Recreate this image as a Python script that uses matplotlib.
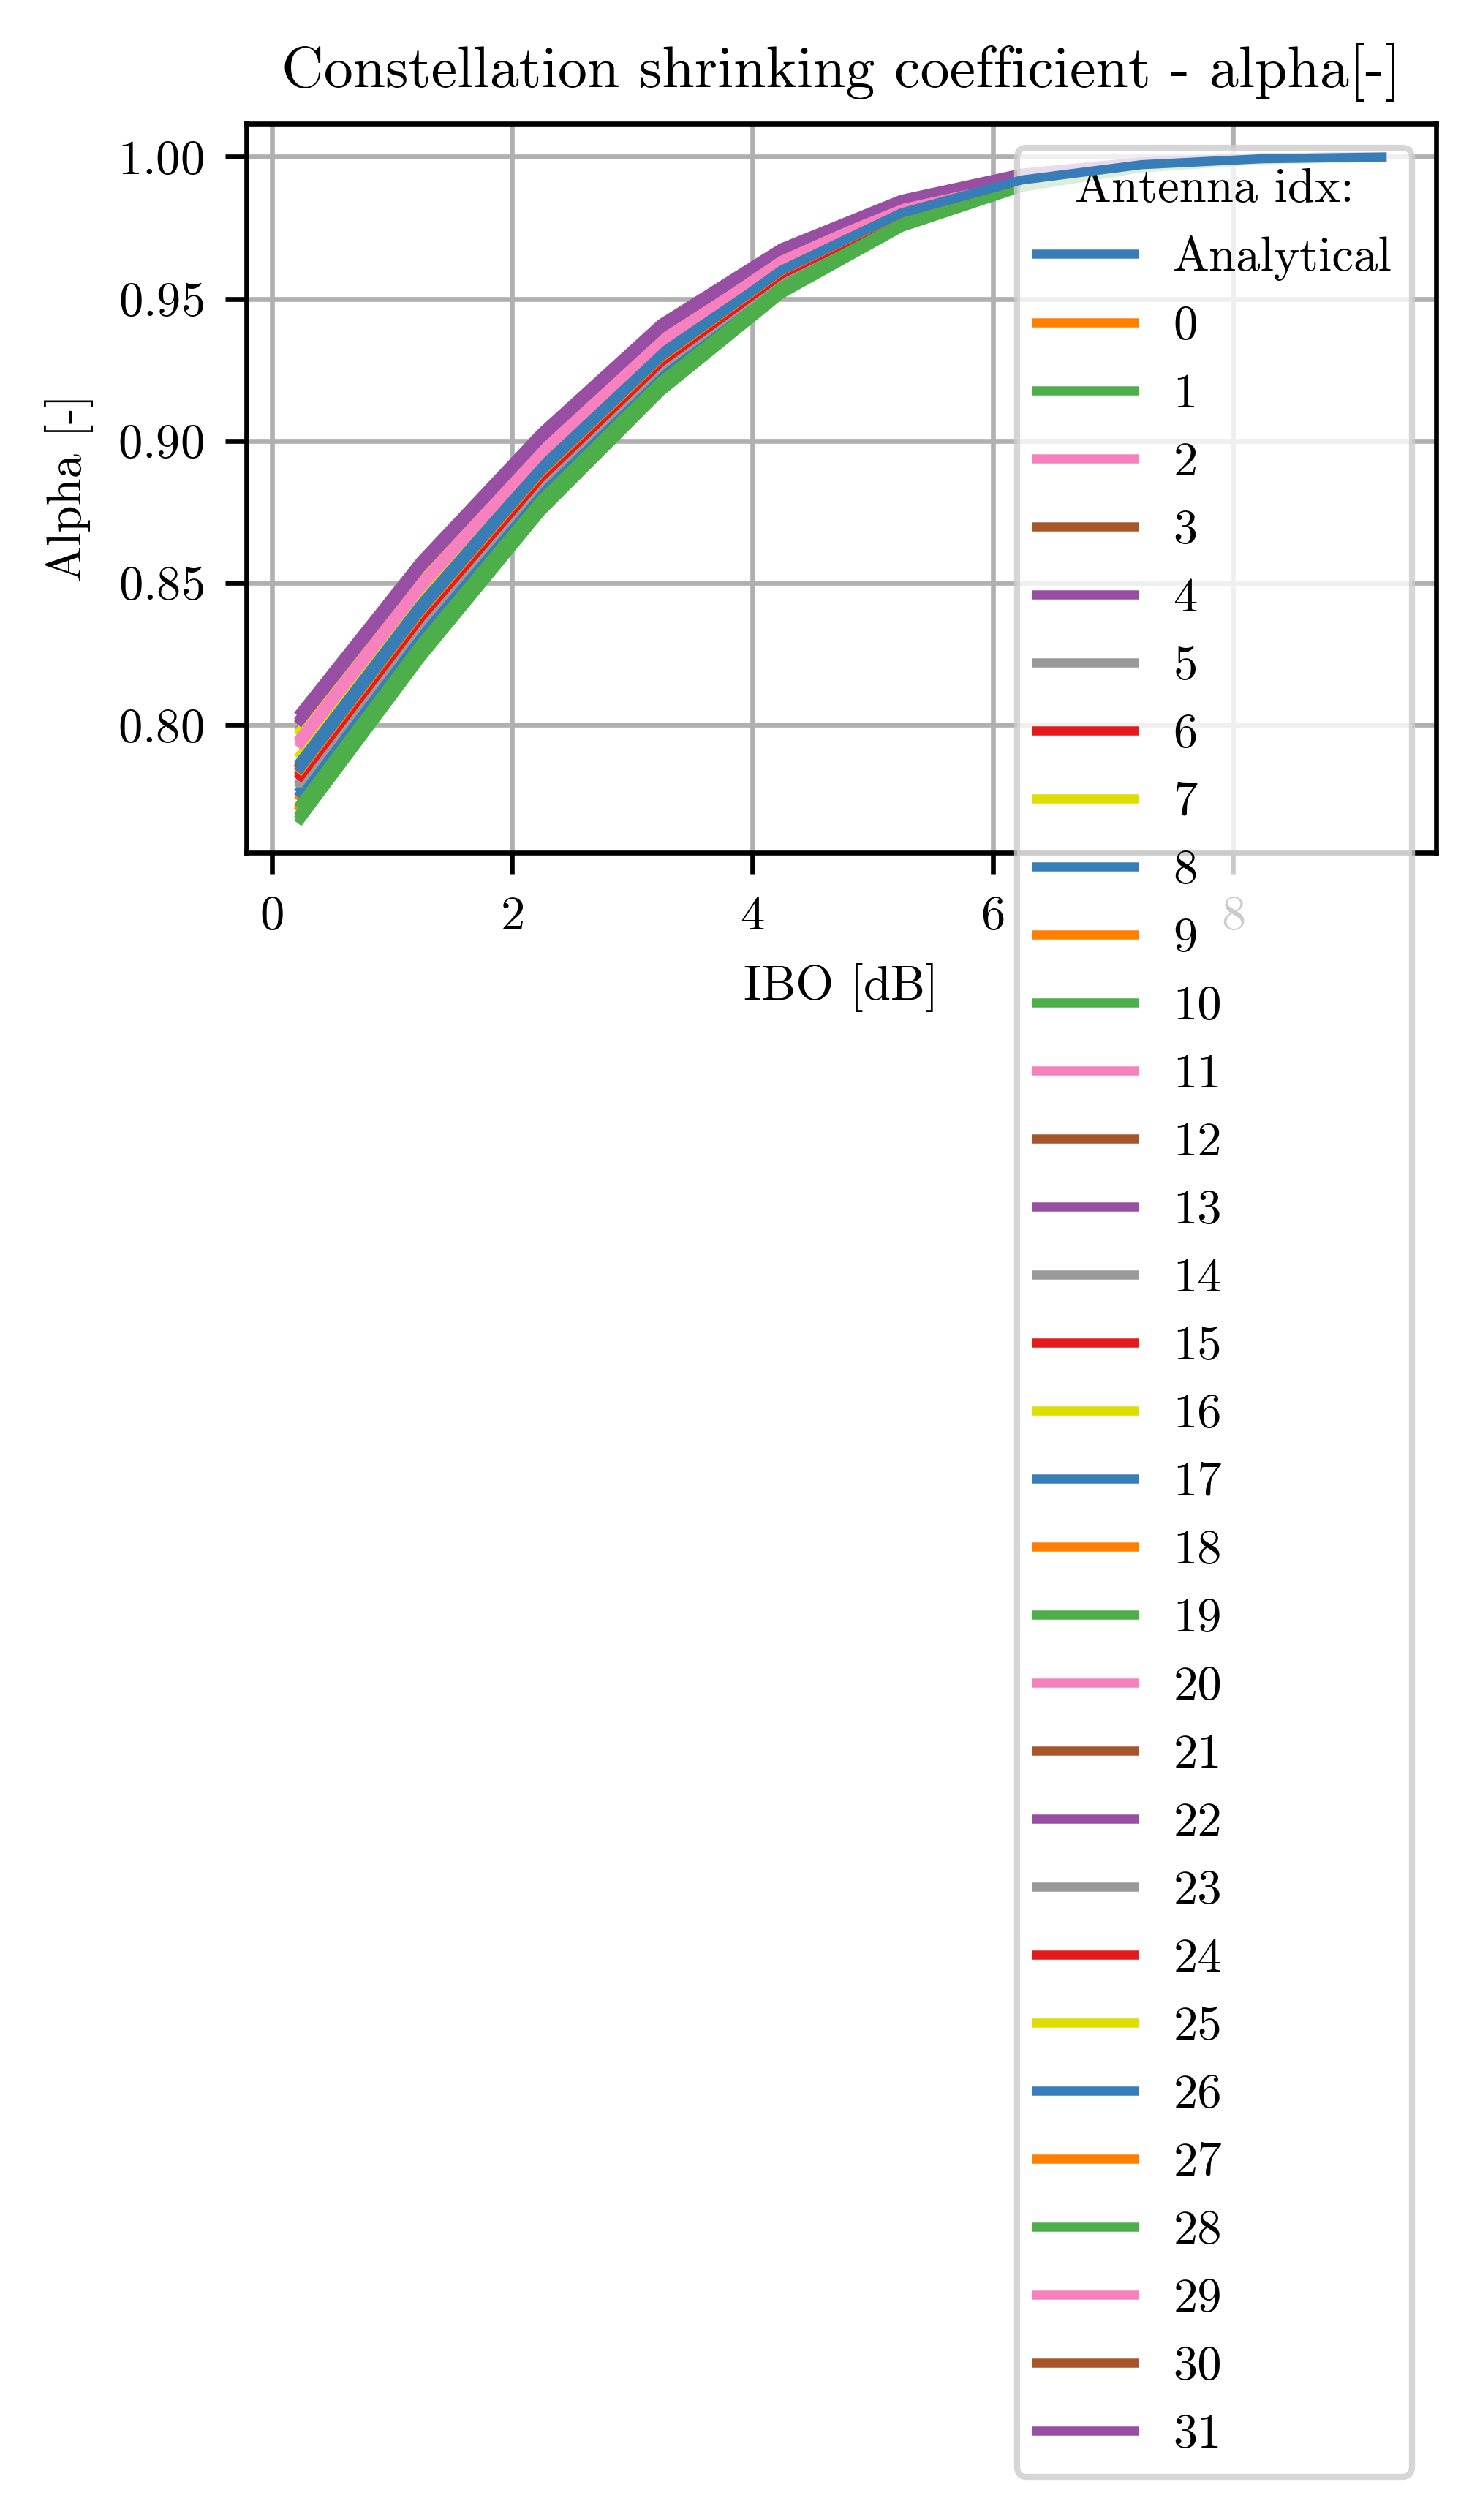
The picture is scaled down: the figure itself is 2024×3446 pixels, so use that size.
import matplotlib
matplotlib.use('Agg')
import matplotlib.pyplot as plt
from cycler import cycler

# colour-blind friendly cycle
CB_colors = ['#377eb8', '#ff7f00', '#4daf4a', '#f781bf', '#a65628',
             '#984ea3', '#999999', '#e41a1c', '#dede00']

ibo = [0.24, 1.24, 2.24, 3.24, 4.24, 5.24, 6.24, 7.24, 8.24, 9.24]

alpha_analytical = [0.7849, 0.8404, 0.8893, 0.9297, 0.9600, 0.9802, 0.9918, 0.9972, 0.9993, 0.9999]

# one row per antenna (idx 0..31)
alpha_antennas = [
    [0.7717, 0.8281, 0.8789, 0.9207, 0.9539, 0.9765, 0.9899, 0.9964, 0.9990, 0.9998],
    [0.7680, 0.8246, 0.8760, 0.9182, 0.9522, 0.9755, 0.9894, 0.9962, 0.9990, 0.9998],
    [0.7950, 0.8494, 0.8963, 0.9357, 0.9641, 0.9827, 0.9931, 0.9977, 0.9995, 1.0000],
    [0.7864, 0.8418, 0.8905, 0.9307, 0.9607, 0.9806, 0.9920, 0.9973, 0.9993, 0.9999],
    [0.8026, 0.8562, 0.9015, 0.9402, 0.9671, 0.9845, 0.9940, 0.9981, 0.9996, 1.0000],
    [0.7992, 0.8531, 0.8992, 0.9382, 0.9658, 0.9837, 0.9936, 0.9979, 0.9995, 1.0000],
    [0.7823, 0.8379, 0.8872, 0.9279, 0.9588, 0.9795, 0.9914, 0.9970, 0.9992, 0.9999],
    [0.7975, 0.8517, 0.8980, 0.9372, 0.9651, 0.9833, 0.9934, 0.9979, 0.9995, 1.0000],
    [0.7775, 0.8335, 0.8835, 0.9247, 0.9566, 0.9781, 0.9907, 0.9968, 0.9992, 0.9999],
    [0.7746, 0.8308, 0.8812, 0.9227, 0.9552, 0.9773, 0.9903, 0.9966, 0.9991, 0.9998],
    [0.7667, 0.8234, 0.8749, 0.9173, 0.9516, 0.9751, 0.9892, 0.9961, 0.9989, 0.9998],
    [0.7805, 0.8363, 0.8858, 0.9267, 0.9580, 0.9790, 0.9912, 0.9969, 0.9992, 0.9999],
    [0.7856, 0.8411, 0.8899, 0.9302, 0.9603, 0.9804, 0.9919, 0.9972, 0.9993, 0.9999],
    [0.8017, 0.8554, 0.9009, 0.9397, 0.9668, 0.9843, 0.9939, 0.9981, 0.9996, 1.0000],
    [0.7790, 0.8349, 0.8847, 0.9257, 0.9573, 0.9786, 0.9910, 0.9968, 0.9992, 0.9999],
    [0.7834, 0.8390, 0.8881, 0.9287, 0.9593, 0.9798, 0.9916, 0.9971, 0.9993, 0.9999],
    [0.7981, 0.8521, 0.8983, 0.9375, 0.9653, 0.9834, 0.9934, 0.9979, 0.9995, 1.0000],
    [0.7759, 0.8320, 0.8822, 0.9236, 0.9559, 0.9777, 0.9905, 0.9967, 0.9991, 0.9998],
    [0.7709, 0.8274, 0.8783, 0.9202, 0.9535, 0.9763, 0.9898, 0.9964, 0.9990, 0.9998],
    [0.7692, 0.8257, 0.8769, 0.9190, 0.9527, 0.9758, 0.9896, 0.9963, 0.9990, 0.9998],
    [0.7957, 0.8500, 0.8967, 0.9361, 0.9644, 0.9828, 0.9931, 0.9978, 0.9995, 1.0000],
    [0.7861, 0.8415, 0.8902, 0.9305, 0.9605, 0.9805, 0.9920, 0.9973, 0.9993, 0.9999],
    [0.8014, 0.8551, 0.9007, 0.9395, 0.9667, 0.9842, 0.9939, 0.9981, 0.9996, 1.0000],
    [0.7800, 0.8359, 0.8855, 0.9264, 0.9578, 0.9788, 0.9911, 0.9969, 0.9992, 0.9999],
    [0.7820, 0.8377, 0.8870, 0.9277, 0.9586, 0.9794, 0.9914, 0.9970, 0.9992, 0.9999],
    [0.7896, 0.8446, 0.8925, 0.9325, 0.9619, 0.9813, 0.9924, 0.9974, 0.9994, 0.9999],
    [0.7873, 0.8425, 0.8909, 0.9311, 0.9610, 0.9808, 0.9921, 0.9973, 0.9993, 0.9999],
    [0.7842, 0.8397, 0.8887, 0.9292, 0.9597, 0.9800, 0.9917, 0.9972, 0.9993, 0.9999],
    [0.7723, 0.8286, 0.8793, 0.9211, 0.9542, 0.9767, 0.9900, 0.9964, 0.9991, 0.9998],
    [0.7935, 0.8481, 0.8952, 0.9348, 0.9635, 0.9823, 0.9929, 0.9976, 0.9994, 0.9999],
    [0.7849, 0.8404, 0.8893, 0.9297, 0.9600, 0.9802, 0.9918, 0.9972, 0.9993, 0.9999],
    [0.8045, 0.8578, 0.9028, 0.9413, 0.9679, 0.9850, 0.9942, 0.9982, 0.9996, 1.0000],
]

plt.rcParams['font.family'] = 'serif'
plt.rcParams['font.serif'] = ['cmr10']
plt.rcParams['mathtext.fontset'] = 'cm'
plt.rcParams['axes.formatter.use_mathtext'] = True
plt.rcParams['font.size'] = 8
plt.rcParams['axes.prop_cycle'] = cycler(color=CB_colors)

fig = plt.figure(figsize=(2024 / 600, 3446 / 600), dpi=600)
ax = fig.add_axes([337 / 2024, 1 - 1166 / 3446, (1964 - 337) / 2024, (1166 - 169) / 3446])

ax.plot(ibo, alpha_analytical, label='Analytical', zorder=6)
for idx, vals in enumerate(alpha_antennas):
    ax.plot(ibo, vals, label=str(idx))

ax.set_title('Constellation shrinking coefficient - alpha[-]')
ax.set_xlabel('IBO [dB]')
ax.set_ylabel('Alpha [-]')
ax.grid(True)
ax.legend(title='Antenna idx:', loc='upper right')

fig.savefig('out.png', dpi=600)
